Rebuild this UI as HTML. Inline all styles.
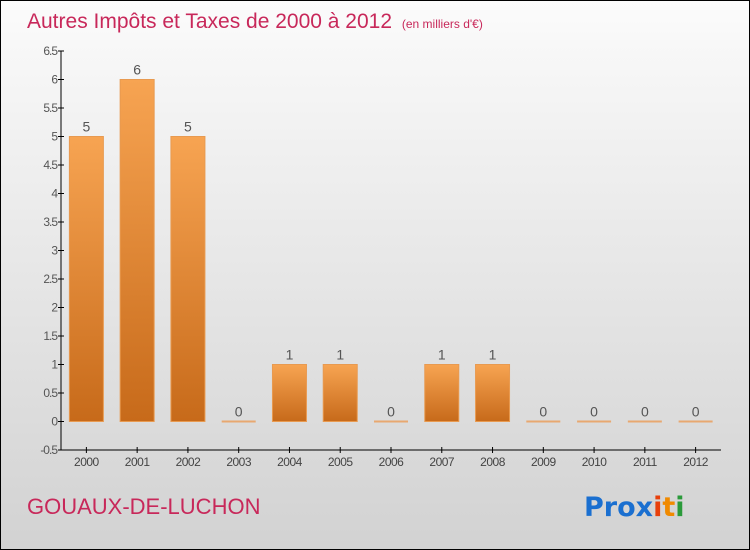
<!DOCTYPE html>
<html><head><meta charset="utf-8"><style>
body{margin:0}
#c{position:relative;width:748px;height:548px;border:1px solid #000;background:linear-gradient(#fbfbfb,#d2d2d2);font-family:"Liberation Sans","DejaVu Sans",sans-serif;overflow:hidden}
</style></head><body>
<div id="c">
<svg width="748" height="548" id="s">
<defs><linearGradient id="g" x1="0" y1="0" x2="0" y2="1"><stop offset="0" stop-color="#f7a452"/><stop offset="1" stop-color="#c76a1a"/></linearGradient></defs>
<text x="26" y="27" font-size="21" fill="#c8285a">Autres Impôts et Taxes de 2000 à 2012 <tspan font-size="12" dx="4">(en milliers d'€)</tspan></text>
<text x="26" y="513" font-size="22" fill="#c8285a">GOUAUX-DE-LUCHON</text>
<text x="583" y="515" font-size="27" font-family="DejaVu Sans" font-weight="bold"><tspan fill="#1a6fd0">Pro</tspan><tspan fill="#1a6fd0">x</tspan><tspan fill="#e8400c">i</tspan><tspan fill="#f08a00">t</tspan><tspan fill="#2a9a3a">i</tspan></text>
<g id="ax"></g><g id="bars"></g>
</svg></div>
<script>
const categories=["2000","2001","2002","2003","2004","2005","2006","2007","2008","2009","2010","2011","2012"];
const values=[5,6,5,0,1,1,0,1,1,0,0,0,0];
const yTicks=[-0.5,0,0.5,1,1.5,2,2.5,3,3.5,4,4.5,5,5.5,6,6.5];
const ns="http://www.w3.org/2000/svg";
const x0=60,x1=720,yMin=-0.5,yMax=6.5,py0=449,py1=50;
const band=(x1-x0)/categories.length;
const y=v=>py0-(v-yMin)/(yMax-yMin)*(py0-py1);
const xc=i=>x0+band*(i+0.5);
function mk(t,a,p){const e=document.createElementNS(ns,t);for(const k in a)e.setAttribute(k,a[k]);p.appendChild(e);return e;}
const ax=document.getElementById('ax'),bg=document.getElementById('bars');
const yl=mk('line',{x1:x0,y1:py1,x2:x0,y2:py0,stroke:'#000'},ax);


const xl=mk('line',{x1:x0,y1:py0,x2:x1,y2:py0,stroke:'#000'},ax);


yTicks.forEach(v=>{
 mk('line',{x1:x0-3,x2:x0+3,y1:y(v),y2:y(v),stroke:'#000'},ax);
 const t=mk('text',{x:x0-4,y:y(v)+4,'font-size':12,'text-anchor':'end',fill:'#555','letter-spacing':'-1'},ax);
 t.textContent=String(v);
 
 
});
categories.forEach((c,i)=>{
 mk('line',{x1:xc(i),x2:xc(i),y1:py0-3,y2:py0+3,stroke:'#000'},ax);
 const t=mk('text',{x:xc(i),y:py0+16,'font-size':12,'text-anchor':'middle',fill:'#444','letter-spacing':'-0.5'},ax);
 t.textContent=c;
 
 
 const v=values[i],w=34;
 let r;
 if(v>0){r=mk('rect',{x:xc(i)-w/2,y:y(v),width:w,height:y(0)-y(v),fill:'url(#g)',stroke:'#e89a50','stroke-width':1},bg);}
 else{r=mk('rect',{x:xc(i)-w/2,y:y(0)-1,width:w,height:2,fill:'#e8a870'},bg);}
 
 
 const l=mk('text',{x:xc(i),y:y(v)-5,'font-size':14,'text-anchor':'middle',fill:'#555'},bg);
 l.textContent=String(v);
 
 
});
</script>
</body></html>
